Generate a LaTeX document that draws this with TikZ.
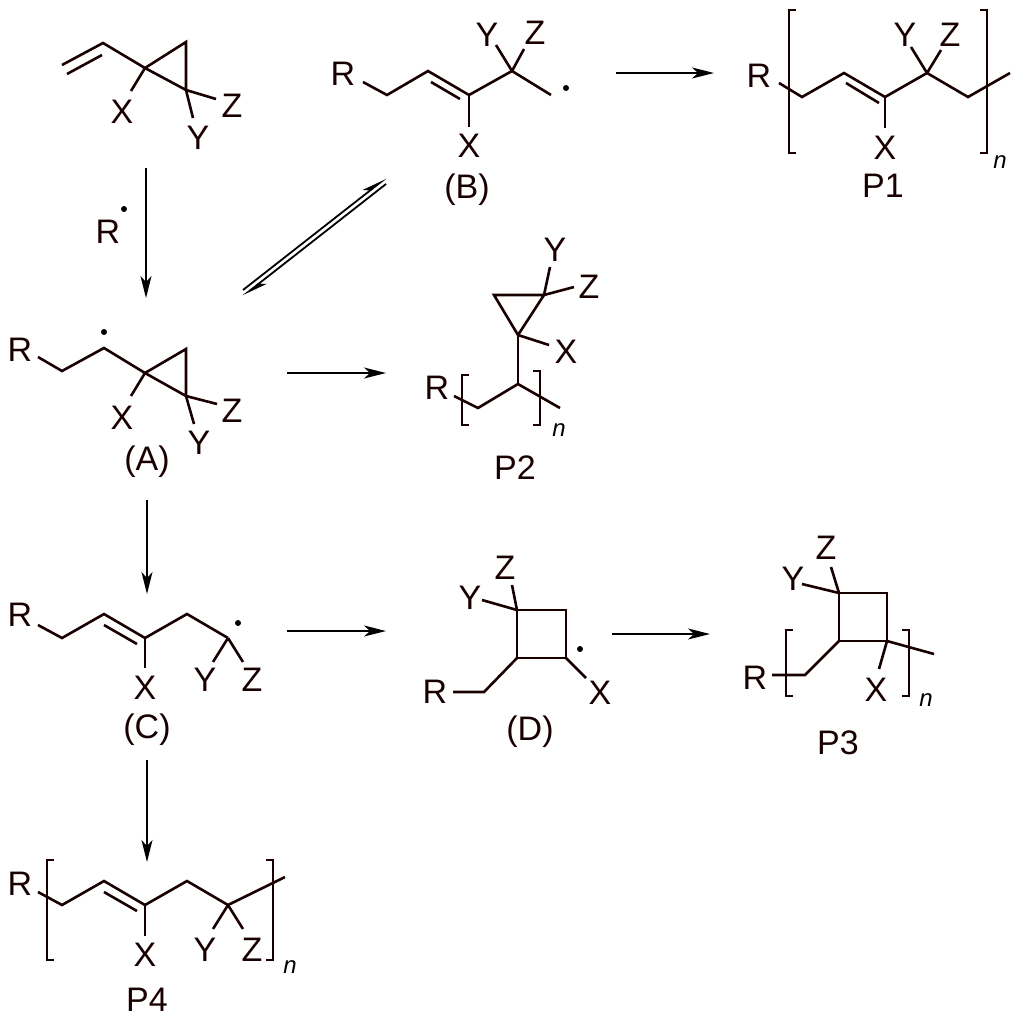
\documentclass[tikz,border=0pt]{standalone}
\usepackage{fontspec}
\setmainfont{Liberation Sans}
\usetikzlibrary{arrows.meta}
\begin{document}
\begin{tikzpicture}[x=1pt,y=-1pt,
  bond/.style={line width=2.6pt,line join=miter,color=black!90!red},
  lab/.style={font=\fontsize{34}{34}\selectfont,inner sep=0pt,color=black!90!red},
  nn/.style={font=\fontsize{24}{24}\selectfont\itshape,inner sep=0pt},
  rxn/.style={line width=1.8pt,-{Stealth[length=22pt,width=11pt,inset=6pt]}},
  eq/.style={line width=1.8pt,-{Stealth[length=22pt,width=10pt,inset=6pt,harpoon]}},
  dot/.style={circle,fill=black,inner sep=0pt,minimum size=6pt}]
\useasboundingbox (0,0) rectangle (1024,1021);
\def\lbr(#1,#2,#3){\draw[bond,line width=2.2pt] (#1+7,#2)--(#1,#2)--(#1,#3)--(#1+7,#3);}
\def\rbr(#1,#2,#3){\draw[bond,line width=2.2pt] (#1-7,#2)--(#1,#2)--(#1,#3)--(#1-7,#3);}
% ---------- monomer
\draw[bond] (62,65)--(103,43)--(145,68);
\draw[bond] (145,68)--(186,42)--(186,90)--cycle;
\draw[bond] (67,74)--(102,55);
\draw[bond] (145,68)--(131,91);
\draw[bond] (186,90)--(216,99);
\draw[bond] (186,90)--(193,118);
\node[lab] (m-x) at (122,112) {X};
\node[lab] (m-z) at (232,106) {Z};
\node[lab] (m-y) at (198,138) {Y};
% ---------- arrow monomer -> A
\coordinate (a1s) at (146,168); \coordinate (a1e) at (146,298);
\draw[rxn] (a1s)--(a1e);
\node[lab] (rr) at (108,232) {R};
\node[dot] (rdot) at (124,209) {};
% ---------- (A)
\node[lab] (A-r) at (20,350) {R};
\draw[bond] (38,357)--(62,371)--(104,348)--(145,373);
\draw[bond] (145,373)--(186,349)--(186,396)--cycle;
\draw[bond] (145,373)--(131,396);
\draw[bond] (186,396)--(217,404);
\draw[bond] (186,396)--(194,424);
\node[dot] (A-dot) at (104,332) {};
\node[lab] (A-x) at (122,418) {X};
\node[lab] (A-z) at (232,411) {Z};
\node[lab] (A-y) at (199,443) {Y};
\node[lab] (A-lab) at (147,462) {(A)};
% ---------- equilibrium
\coordinate (e1s) at (243,290); \coordinate (e1e) at (386,178);
\coordinate (e2s) at (386,184); \coordinate (e2e) at (243,296);
\draw[eq] (e1s)--(e1e);
\draw[eq] (e2s)--(e2e);
% ---------- (B)
\node[lab] (B-r) at (343,74) {R};
\draw[bond] (363,82)--(387,95)--(428,71)--(469,95)--(512,71)--(551,95);
\draw[bond] (431,82)--(460,99);
\draw[bond] (469,95)--(469,127);
\draw[bond] (512,71)--(496,45);
\draw[bond] (512,71)--(524,49);
\node[lab] (B-x) at (469,146) {X};
\node[lab] (B-y) at (487,35) {Y};
\node[lab] (B-z) at (535,33) {Z};
\node[dot] (B-dot) at (566,88) {};
\node[lab] (B-lab) at (467,190) {(B)};
% ---------- B -> P1
\coordinate (b1s) at (616,73); \coordinate (b1e) at (714,73);
\draw[rxn] (b1s)--(b1e);
% ---------- P1
\node[lab] (P1-r) at (759,76) {R};
\lbr(789,10,153)
\rbr(987,10,153)
\draw[bond] (779,83)--(802,97)--(844,73)--(885,97)--(927,73)--(968,97)--(1010,73);
\draw[bond] (846,83)--(879,103);
\draw[bond] (885,97)--(885,128);
\draw[bond] (927,73)--(911,47);
\draw[bond] (927,73)--(941,50);
\node[lab] (P1-x) at (885,148) {X};
\node[lab] (P1-y) at (905,35) {Y};
\node[lab] (P1-z) at (950,35) {Z};
\node[nn] (P1-n) at (1000,162) {n};
\node[lab] (P1-lab) at (883,186) {P1};
% ---------- A -> P2
\coordinate (c1s) at (287,373); \coordinate (c1e) at (386,373);
\draw[rxn] (c1s)--(c1e);
% ---------- P2
\node[lab] (P2-r) at (437,388) {R};
\lbr(462,375,425)
\rbr(540,371,425)
\draw[bond] (454,396)--(478,408)--(518,384)--(560,408);
\draw[bond] (518,384)--(518,335);
\draw[bond] (518,335)--(494,295)--(544,295)--cycle;
\draw[bond] (544,295)--(550,267);
\draw[bond] (544,295)--(574,287);
\draw[bond] (518,335)--(549,345);
\node[lab] (P2-y) at (555,250) {Y};
\node[lab] (P2-z) at (589,287) {Z};
\node[lab] (P2-x) at (566,352) {X};
\node[nn] (P2-n) at (559,430) {n};
\node[lab] (P2-lab) at (515,468) {P2};
% ---------- A -> C
\coordinate (d1s) at (147,500); \coordinate (d1e) at (147,594);
\draw[rxn] (d1s)--(d1e);
% ---------- (C)
\node[lab] (C-r) at (20,615) {R};
\draw[bond] (38,625)--(62,638)--(104,614)--(145,638)--(187,614)--(228,638);
\draw[bond] (104,625)--(137,644);
\draw[bond] (145,638)--(145,668);
\draw[bond] (228,638)--(213,662);
\draw[bond] (228,638)--(243,662);
\node[dot] (C-dot) at (238,623) {};
\node[lab] (C-x) at (145,688) {X};
\node[lab] (C-y) at (205,680) {Y};
\node[lab] (C-z) at (252,680) {Z};
\node[lab] (C-lab) at (147,730) {(C)};
% ---------- C -> D
\coordinate (f1s) at (287,631); \coordinate (f1e) at (386,631);
\draw[rxn] (f1s)--(f1e);
% ---------- (D)
\draw[bond] (517,610) rectangle (566,658);
\draw[bond] (517,610)--(512,585);
\draw[bond] (517,610)--(482,600);
\draw[bond] (517,658)--(484,692)--(453,692);
\draw[bond] (566,658)--(586,678);
\node[lab] (D-z) at (505,568) {Z};
\node[lab] (D-y) at (470,598) {Y};
\node[lab] (D-r) at (435,692) {R};
\node[lab] (D-x) at (600,693) {X};
\node[dot] (D-dot) at (580,649) {};
\node[lab] (D-lab) at (530,732) {(D)};
% ---------- D -> P3
\coordinate (g1s) at (612,634); \coordinate (g1e) at (710,634);
\draw[rxn] (g1s)--(g1e);
% ---------- P3
\draw[bond] (839,593) rectangle (887,641);
\draw[bond] (839,593)--(831,567);
\draw[bond] (839,593)--(802,584);
\draw[bond] (839,641)--(805,675)--(772,675);
\draw[bond] (887,641)--(879,669);
\draw[bond] (887,641)--(934,654);
\lbr(786,630,696)
\rbr(909,630,696)
\node[lab] (P3-z) at (826,548) {Z};
\node[lab] (P3-y) at (793,579) {Y};
\node[lab] (P3-r) at (755,678) {R};
\node[lab] (P3-x) at (876,690) {X};
\node[nn] (P3-n) at (926,700) {n};
\node[lab] (P3-lab) at (838,743) {P3};
% ---------- C -> P4
\coordinate (h1s) at (147,760); \coordinate (h1e) at (147,862);
\draw[rxn] (h1s)--(h1e);
% ---------- P4
\node[lab] (P4-r) at (20,884) {R};
\lbr(47,860,960)
\rbr(273,860,960)
\draw[bond] (38,892)--(62,905)--(104,881)--(145,905)--(187,881)--(228,905)--(285,877);
\draw[bond] (104,892)--(137,911);
\draw[bond] (145,905)--(145,936);
\draw[bond] (228,905)--(213,929);
\draw[bond] (228,905)--(243,929);
\node[lab] (P4-x) at (145,955) {X};
\node[lab] (P4-y) at (205,950) {Y};
\node[lab] (P4-z) at (252,950) {Z};
\node[nn] (P4-n) at (290,967) {n};
\node[lab] (P4-lab) at (147,1000) {P4};
\end{tikzpicture}
\end{document}
